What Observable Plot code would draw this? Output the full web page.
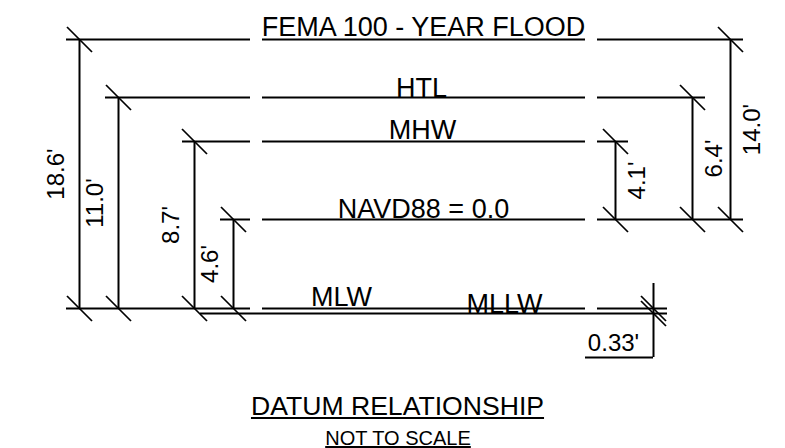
<!DOCTYPE html>
<html><head><meta charset="utf-8">
<script src="https://cdn.jsdelivr.net/npm/d3@7"></script>
<script src="https://cdn.jsdelivr.net/npm/@observablehq/plot@0.6"></script>
<style>
html,body{margin:0;padding:0;background:#fff;}
body{width:785px;height:448px;overflow:hidden;font-family:"Liberation Sans",Arial,sans-serif;color:#000;}
#chart svg{display:block;}
.title{font-size:26.6px;line-height:36px;height:36px;text-align:center;padding-left:10px;}
.sub{font-size:20px;line-height:28px;height:28px;text-align:center;padding-left:11px;}
.title span,.sub span{text-decoration:underline;}
</style></head><body>
<div id="chart"></div>
<div class="title"><span id="t"></span></div>
<div class="sub"><span id="s"></span></div>
<script>
// ---- data (elevations in feet, NAVD88) ----
const levelNames = ["FEMA 100 - YEAR FLOOD", "HTL", "MHW", "NAVD88 = 0.0", "MLW", "MLLW"];
const levelElev  = [14.0, 6.4, 4.1, 0.0, -4.6, -4.93];
const dimLabels  = ["18.6'", "11.0'", "8.7'", "4.6'", "4.1'", "6.4'", "14.0'", "0.33'"];
const dimFrom    = ["MLW", "MLW", "MLW", "MLW", "NAVD88 = 0.0", "NAVD88 = 0.0", "NAVD88 = 0.0", "MLW"];
const dimTo      = ["FEMA 100 - YEAR FLOOD", "HTL", "MHW", "NAVD88 = 0.0", "MHW", "HTL", "FEMA 100 - YEAR FLOOD", "MLLW"];
const titleText  = "DATUM RELATIONSHIP";
const subText    = "NOT TO SCALE";

// ---- layout (drawing is not to scale) ----
const layout = {
  yRange: [313, 308, 219, 141, 97, 39],
  levelStart: [66, 105, 182, 220, 66, 200],
  levelEnd: [743, 705, 628, 743, 667, 667],
  labelX: [423, 421, 422, 423, 341, 504],
  labelDy: [-4, -1, -3, -2, -3, -1],
  gapped: [true, true, true, true, true, false],
  gapL: [250, 262], gapR: [585, 597],
  dimX: [79, 118, 194, 233, 615, 692, 730, 653],
  dimDx: [-23, -24, -22, -22, 22, 21, 22, 0]
};

document.getElementById("t").textContent = titleText;
document.getElementById("s").textContent = subText;

const elev = Object.fromEntries(levelNames.map((n, i) => [n, levelElev[i]]));
const yDomain = [...levelElev].sort((a, b) => a - b);
const yOpts = {type: "linear", domain: yDomain, range: layout.yRange};
const yS = Plot.scale({y: yOpts});

// horizontal datum lines
const segs = [];
levelNames.forEach((n, i) => {
  const y = levelElev[i], a = layout.levelStart[i], b = layout.levelEnd[i];
  if (layout.gapped[i]) {
    segs.push({y, x1: a, x2: layout.gapL[0]}, {y, x1: layout.gapL[1], x2: layout.gapR[0]}, {y, x1: layout.gapR[1], x2: b});
  } else segs.push({y, x1: a, x2: b});
});

// dimension lines
const dims = dimLabels.map((label, i) => ({
  label, x: layout.dimX[i], dx: layout.dimDx[i],
  y1: elev[dimFrom[i]], y2: elev[dimTo[i]],
  ym: yS.invert((yS.apply(elev[dimFrom[i]]) + yS.apply(elev[dimTo[i]])) / 2)
}));
const mainDims = dims.slice(0, 7);
const smallDim = dims[7];
const ticks = dims.flatMap(d => [{x: d.x, y: d.y1}, {x: d.x, y: d.y2}]);

const slash = {draw(ctx, size) { const r = Math.sqrt(size / Math.PI); ctx.moveTo(-r, -r); ctx.lineTo(r, r); }};
const font = 27;

const marks = [
  Plot.ruleY(segs, {y: "y", x1: "x1", x2: "x2", stroke: "black", strokeWidth: 2}),
  Plot.ruleX(mainDims, {x: "x", y1: "y1", y2: "y2", stroke: "black", strokeWidth: 2}),
  Plot.ruleX([smallDim], {x: "x", y1: "y1", y2: "y2", stroke: "black", strokeWidth: 2, insetTop: -25, insetBottom: -44}),
  Plot.ruleY([smallDim], {y: "y2", x1: d => d.x - 68, x2: "x", dy: 44, stroke: "black", strokeWidth: 2}),
  Plot.dot(ticks, {x: "x", y: "y", r: 12.5, symbol: slash, fill: "none", stroke: "black", strokeWidth: 1.7}),
  ...levelNames.map((n, i) => Plot.text([n], {
    x: () => layout.labelX[i], y: () => levelElev[i], text: d => d,
    fontSize: font, lineAnchor: "bottom", textAnchor: "middle", dy: layout.labelDy[i], fill: "black"
  })),
  Plot.text(mainDims.filter(d => d.dx < 0), {x: "x", y: "ym", text: "label", rotate: -90, dx: -23, fontSize: 24, lineAnchor: "middle", textAnchor: "middle", fill: "black"}),
  Plot.text(mainDims.filter(d => d.dx > 0), {x: "x", y: "ym", text: "label", rotate: -90, dx: 22, fontSize: 24, lineAnchor: "middle", textAnchor: "middle", fill: "black"}),
  Plot.text([smallDim], {x: d => d.x - 40, y: "y2", text: "label", dy: 37, fontSize: 24, lineAnchor: "bottom", textAnchor: "middle", fill: "black"})
];

const chart = Plot.plot({
  width: 785, height: 388,
  margin: 0,
  x: {type: "linear", domain: [0, 785], range: [0, 785], axis: null},
  y: {...yOpts, axis: null},
  style: {fontFamily: "'Liberation Sans', Arial, sans-serif", background: "white", color: "black", overflow: "visible"},
  marks
});
document.getElementById("chart").appendChild(chart);
</script>
</body></html>
